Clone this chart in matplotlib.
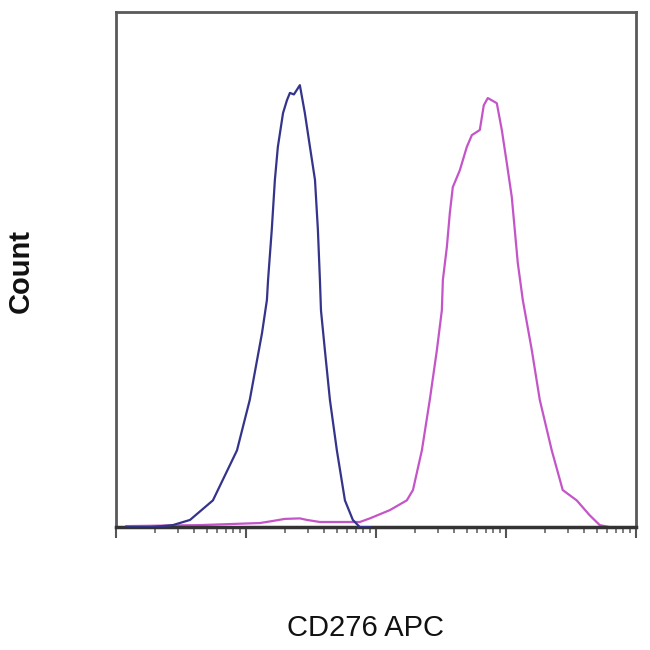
import numpy as np
import matplotlib.pyplot as plt
from matplotlib.ticker import LogLocator, NullFormatter

plt.rcParams['font.family'] = ['Liberation Sans', 'DejaVu Sans']

# isotype control (blue), fluorescence intensity vs. normalised count
ctrl_x = [1.2, 1.83, 2.74, 3.71, 5.57, 8.53, 10.7, 13.3, 14.5, 14.8, 15.8, 16.7, 17.6,
          19.3, 20.7, 21.8, 23.4, 26.0, 28.4, 31.1, 34.0, 35.8, 37.1, 37.8, 40.5,
          44.3, 50.1, 57.8, 66.5, 75.3, 90.0]
ctrl_y = [0.0, 0.0, 0.4, 1.4, 5.2, 14.9, 24.7, 37.7, 44.1, 48.0, 57.7, 67.4, 73.8,
          80.4, 82.9, 84.3, 84.0, 85.8, 80.4, 73.8, 67.4, 57.7, 48.0, 42.1, 34.4,
          24.7, 14.9, 5.2, 1.4, 0.0, 0.0]

# CD276 APC stained (magenta)
cd276_x = [1.2, 4.43, 12.8, 16.1, 19.9, 26.0, 29.5, 37.1, 75.3, 89.9, 128, 173, 193,
           226, 260, 295, 322, 328, 352, 371, 391, 443, 501, 548, 631, 677, 727,
           853, 932, 1018, 1112, 1173, 1237, 1352, 1585, 1827, 2259, 2744, 3105,
           3515, 4427, 5285, 6310, 9000]
cd276_y = [0.2, 0.4, 0.8, 1.2, 1.6, 1.7, 1.4, 1.0, 1.0, 1.7, 3.3, 5.2, 7.2,
           14.9, 24.7, 34.4, 42.1, 48.0, 54.4, 61.0, 66.0, 69.3, 73.8, 76.1, 77.1,
           81.9, 83.3, 82.3, 77.1, 70.7, 64.1, 57.7, 51.3, 44.1, 34.4, 24.7, 14.9,
           7.2, 6.2, 5.2, 2.3, 0.4, 0.0, 0.0]

fig = plt.figure(figsize=(6.5, 6.5), dpi=100)
ax = fig.add_axes([0.1785, 0.189, 0.7995, 0.7925])

ax.plot(ctrl_x, ctrl_y, color='#34348a', lw=1.6, zorder=3)
ax.plot(cd276_x, cd276_y, color='#c455c8', lw=1.6, zorder=2)

ax.set_xscale('log')
ax.set_xlim(1, 1e4)
ax.set_ylim(0, 100)

ax.xaxis.set_major_locator(LogLocator(base=10, numticks=10))
ax.xaxis.set_minor_locator(LogLocator(base=10, subs=np.arange(2, 10), numticks=10))
ax.xaxis.set_major_formatter(NullFormatter())
ax.xaxis.set_minor_formatter(NullFormatter())
ax.tick_params(axis='x', which='major', direction='out', length=8, width=1.5, color='#555555')
ax.tick_params(axis='x', which='minor', direction='out', length=4, width=1.2, color='#666666')
ax.set_yticks([])

for side in ['left', 'top', 'right']:
    ax.spines[side].set_color('#5a5a5a')
    ax.spines[side].set_linewidth(2.0)
ax.spines['bottom'].set_color('#333333')
ax.spines['bottom'].set_linewidth(2.5)

fig.text(0.032, 0.583, 'Count', rotation=90, fontsize=21, fontweight='bold',
         ha='center', va='center', color='#111111')
fig.text(0.562, 0.034, 'CD276 APC', fontsize=21, ha='center', va='center', color='#111111')

fig.savefig('out.png', dpi=100)
